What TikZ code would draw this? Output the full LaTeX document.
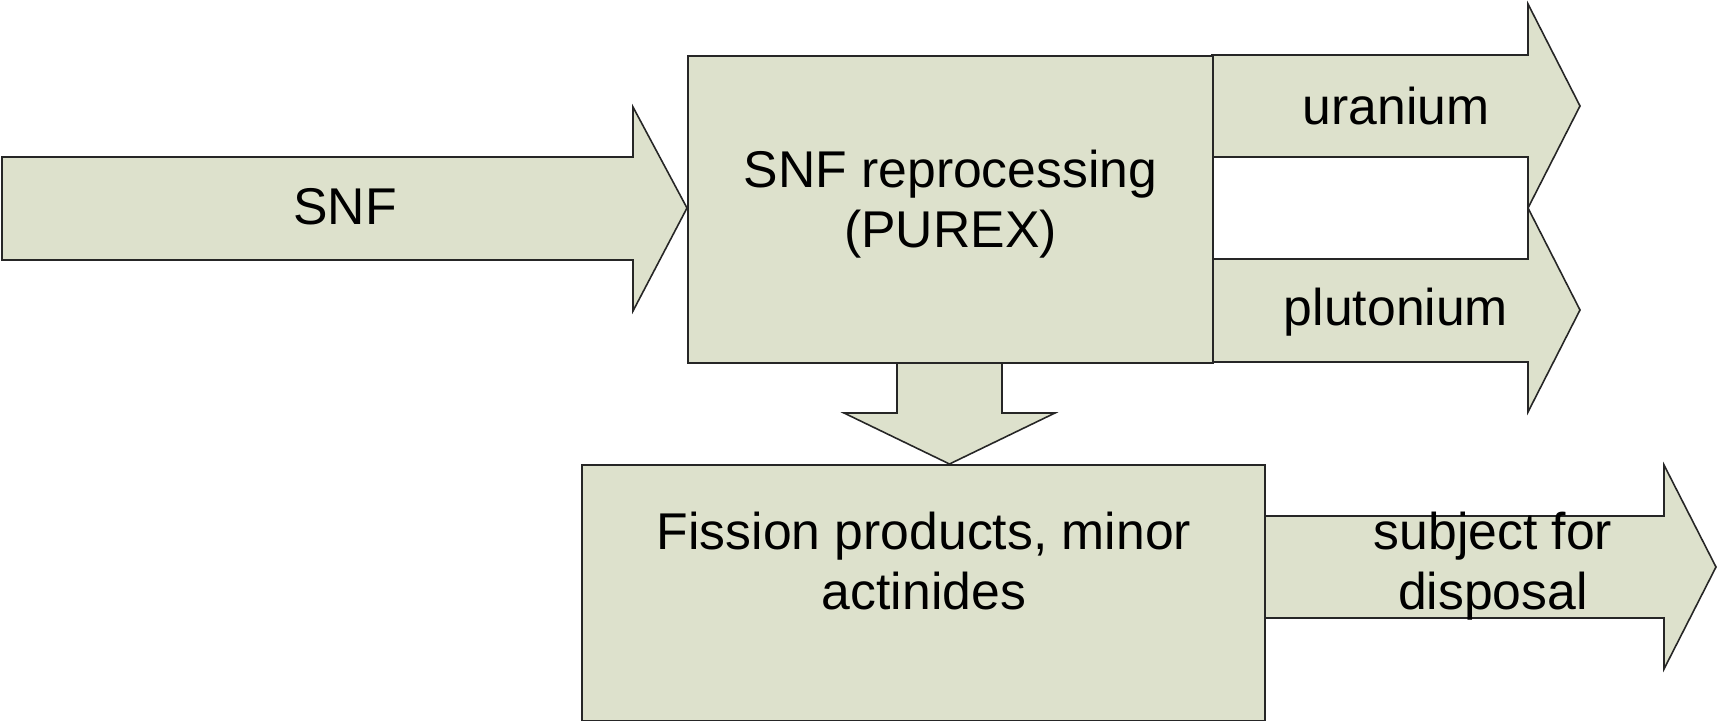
\documentclass[tikz,border=0pt]{standalone}
\usepackage{fontspec}
\setmainfont{Liberation Sans}
\usetikzlibrary{positioning}
\definecolor{sagefill}{RGB}{221,225,204}

\begin{document}
\begin{tikzpicture}[
		x=0.01cm, y=-0.01cm,
		flow/.style={draw=black!85, fill=sagefill, line width=0.45pt, line join=miter},
		label/.style={align=center, inner sep=0pt, font=\fontsize{14.7}{16.9}\selectfont}]
		\useasboundingbox (0,0) rectangle (1717,721);

		% block arrows
		\draw[flow] (2,157) -- (633,157) -- (633,107) -- (687,208) -- (633,311) -- (633,260) -- (2,260) -- cycle;
		\draw[flow] (1212,55) -- (1528,55) -- (1528,4) -- (1580,106) -- (1528,208) -- (1528,157) -- (1212,157) -- cycle;
		\draw[flow] (1212,259) -- (1528,259) -- (1528,208) -- (1580,310) -- (1528,412) -- (1528,362) -- (1212,362) -- cycle;
		\draw[flow] (897,362) -- (897,413) -- (844,413) -- (949.5,464) -- (1055,413) -- (1002,413) -- (1002,362);
		\draw[flow] (1264,516) -- (1664,516) -- (1664,465) -- (1716,567) -- (1664,669) -- (1664,618) -- (1264,618) -- cycle;

		% boxes
		\node[flow, anchor=north west, minimum width=5.25cm, minimum height=3.07cm] (purex) at (687,55) {};
		\node[flow, anchor=north west, minimum width=6.83cm, minimum height=2.56cm] (fission) at (581,464) {};

		\node[label] (snf) at (345,207) {SNF};
		\node[label] (reproc) at ([yshift=1.5]purex.center) {SNF reprocessing\\(PUREX)};
		\node[label] (uranium) at (1396,106) {uranium};
		\node[label] (plutonium) at (1396,312) {plutonium};
		\node[label] (fp) at (924,561) {Fission products, minor\\actinides};
		\node[label] (disposal) at (1493,566) {subject for\\disposal};
\end{tikzpicture}
\end{document}
